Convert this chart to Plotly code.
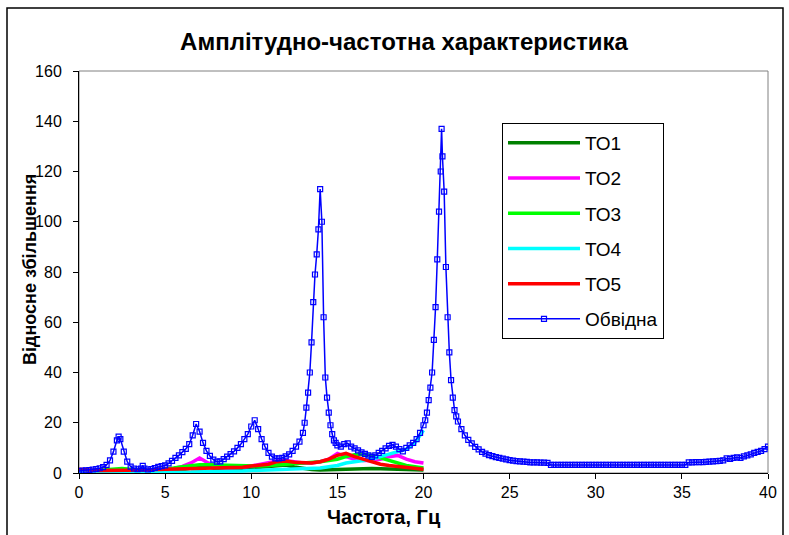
import plotly.graph_objects as go

# Frequency response of the five transfer functions (ТО1..ТО5), 0.5 Hz step
COMP_FREQ = [0.0, 0.5, 1.0, 1.5, 2.0, 2.5, 3.0, 3.5, 4.0, 4.5, 5.0, 5.5, 6.0, 6.5,
             7.0, 7.5, 8.0, 8.5, 9.0, 9.5, 10.0, 10.5, 11.0, 11.5, 12.0, 12.5,
             13.0, 13.5, 14.0, 14.5, 15.0, 15.5, 16.0, 16.5, 17.0, 17.5, 18.0,
             18.5, 19.0, 19.5, 20.0]

TO1 = [0.3, 0.4, 0.5, 0.7, 0.9, 1.0, 0.6, 0.5, 0.5, 0.6, 0.8, 1.0, 1.3, 2.0,
       2.8, 2.5, 1.6, 1.4, 1.5, 1.8, 2.0, 2.3, 2.6, 3.0, 3.2, 2.4, 1.8, 1.4,
       1.2, 1.3, 1.6, 1.8, 1.9, 1.9, 1.8, 1.7, 1.6, 1.6, 1.5, 1.4, 1.2]

TO2 = [0.2, 0.3, 0.4, 0.5, 0.6, 0.7, 0.6, 0.6, 0.7, 0.9, 1.2, 1.8, 2.6, 4.0,
       6.0, 4.0, 2.4, 2.0, 2.0, 2.3, 2.8, 3.4, 4.2, 4.8, 5.0, 4.5, 4.0, 4.0,
       4.5, 5.5, 7.8, 6.5, 5.5, 5.0, 5.0, 5.5, 6.5, 7.0, 5.5, 4.5, 4.0]

TO3 = [0.5, 0.8, 1.0, 1.5, 1.8, 1.8, 1.5, 1.2, 1.0, 1.2, 1.5, 2.0, 2.5, 3.0,
       3.3, 3.3, 3.2, 3.2, 3.0, 2.8, 2.7, 2.8, 3.0, 3.2, 3.5, 3.8, 3.8, 4.0,
       4.5, 5.0, 5.5, 6.5, 7.3, 7.5, 7.0, 6.0, 5.0, 4.0, 3.0, 2.5, 2.0]

TO4 = [0.1, 0.1, 0.1, 0.1, 0.2, 0.2, 0.2, 0.2, 0.2, 0.3, 0.3, 0.3, 0.4, 0.4,
       0.5, 0.5, 0.5, 0.6, 0.6, 0.8, 1.0, 1.1, 1.2, 1.3, 1.4, 1.4, 1.5, 1.7,
       2.0, 2.5, 3.0, 4.0, 4.5, 4.8, 5.5, 6.5, 7.5, 8.5, 9.5, 12.0, 17.0]

TO5 = [1.5, 1.2, 1.0, 1.0, 1.0, 1.0, 1.0, 1.0, 1.2, 1.4, 1.5, 1.5, 1.6, 1.7,
       1.8, 1.8, 1.9, 2.0, 2.1, 2.3, 2.8, 3.0, 3.5, 4.5, 4.8, 4.3, 4.0, 4.0,
       4.5, 5.5, 7.0, 7.8, 6.5, 5.5, 4.5, 3.5, 3.0, 2.6, 2.2, 1.8, 1.5]

# Envelope (Обвідна) sampled finer around the resonance peaks
ENV_FREQ = [
    0.0, 0.2, 0.4, 0.6, 0.8, 1.0, 1.2, 1.4, 1.6, 1.8, 2.0, 2.2, 2.3, 2.4,
    2.6, 2.8, 3.0, 3.2, 3.4, 3.6, 3.7, 3.8, 4.0, 4.2, 4.4, 4.6, 4.8, 5.0,
    5.2, 5.4, 5.6, 5.8, 6.0, 6.2, 6.4, 6.6, 6.8, 7.0, 7.2, 7.4, 7.6, 7.8,
    8.0, 8.2, 8.4, 8.6, 8.8, 9.0, 9.2, 9.4, 9.6, 9.8, 10.0, 10.2, 10.4,
    10.6, 10.8, 11.0, 11.2, 11.4, 11.6, 11.8, 12.0, 12.2, 12.4, 12.6, 12.8,
    13.0,
    13.1, 13.2, 13.3, 13.4, 13.5, 13.6, 13.7, 13.8, 13.9, 14.0, 14.1, 14.2,
    14.3, 14.4, 14.5, 14.6, 14.7, 14.8, 14.9, 15.0,
    15.2, 15.4, 15.6, 15.8, 16.0, 16.2, 16.4, 16.6, 16.8, 17.0, 17.2, 17.4,
    17.6, 17.8, 18.0, 18.2, 18.4, 18.6, 18.8, 19.0, 19.2, 19.4, 19.6, 19.8,
    20.0,
    20.1, 20.2, 20.3, 20.4, 20.5, 20.6, 20.7, 20.8, 20.9, 21.0, 21.05, 21.1,
    21.2, 21.3, 21.4, 21.5, 21.6, 21.7, 21.8, 21.9, 22.0,
    22.2, 22.4, 22.6, 22.8, 23.0, 23.2, 23.4, 23.6, 23.8, 24.0, 24.2, 24.4,
    24.6, 24.8, 25.0, 25.2, 25.4, 25.6, 25.8, 26.0, 26.2, 26.4, 26.6, 26.8,
    27.0, 27.2, 27.4, 27.6, 27.8, 28.0, 28.2, 28.4, 28.6, 28.8, 29.0, 29.2,
    29.4, 29.6, 29.8, 30.0, 30.2, 30.4, 30.6, 30.8, 31.0, 31.2, 31.4, 31.6,
    31.8, 32.0, 32.2, 32.4, 32.6, 32.8, 33.0, 33.2, 33.4, 33.6, 33.8, 34.0,
    34.2, 34.4, 34.6, 34.8, 35.0, 35.2, 35.4, 35.6, 35.8, 36.0, 36.2, 36.4,
    36.6, 36.8, 37.0, 37.2, 37.4, 37.6, 37.8, 38.0, 38.2, 38.4, 38.6, 38.8,
    39.0, 39.2, 39.4, 39.6, 39.8, 40.0,
]

ENV_GAIN = [
    0.8, 1.0, 1.1, 1.2, 1.4, 1.6, 1.9, 2.3, 3.2, 5.0, 8.5, 13.0, 14.5, 13.5,
    8.5, 4.5, 2.5, 1.8, 1.5, 1.8, 2.8, 1.8, 1.4, 1.6, 2.0, 2.4, 2.7, 3.0,
    3.8, 4.8, 6.0, 7.0, 8.3, 9.6, 11.5, 15.0, 19.5, 16.5, 12.0, 8.8, 6.8, 5.3,
    4.5, 4.6, 5.5, 6.5, 7.5, 8.6, 10.0, 11.5, 13.5, 15.5, 18.5, 21.0, 17.5,
    13.5, 10.5, 8.0, 6.5, 5.8, 5.8, 6.0, 6.6, 7.4, 8.8, 10.5, 12.5,
    16.0,
    20.0, 26.0, 32.0, 40.0, 52.0, 68.0, 79.0, 87.0, 97.0, 113.0, 100.0, 62.0,
    38.0, 30.0, 24.0, 19.0, 15.5, 13.0, 12.0, 11.0,
    10.5, 11.5, 11.8, 10.5, 9.8, 9.0, 8.2, 7.6, 7.0, 6.4, 7.0, 8.0,
    8.8, 9.8, 10.8, 11.2, 10.5, 9.5, 8.6, 10.0, 11.0, 12.0, 13.5, 16.0,
    19.0,
    21.0, 24.0, 29.0, 34.0, 40.0, 53.0, 66.0, 85.0, 104.0, 120.0, 137.0, 126.0,
    112.0, 82.0, 62.0, 48.0, 37.0, 30.0, 25.0, 22.5, 20.5,
    17.5, 15.0, 13.2, 11.8, 10.4, 9.4, 8.4, 7.7, 7.1, 6.7, 6.3, 6.0,
    5.7, 5.4, 5.1, 4.9, 4.7, 4.6, 4.5, 4.4, 4.2, 4.2, 4.2, 4.1,
    4.1, 4.0, 3.2, 3.2, 3.2, 3.2, 3.2, 3.2, 3.2, 3.2, 3.2, 3.2,
    3.2, 3.2, 3.2, 3.2, 3.2, 3.2, 3.2, 3.2, 3.2, 3.2, 3.2, 3.2,
    3.2, 3.2, 3.2, 3.2, 3.2, 3.2, 3.2, 3.2, 3.2, 3.2, 3.2, 3.2,
    3.2, 3.2, 3.2, 3.2, 3.2, 3.2, 4.2, 4.2, 4.3, 4.3, 4.3, 4.4,
    4.5, 4.6, 4.7, 4.8, 5.0, 5.8, 5.6, 6.0, 6.2, 6.0, 6.6, 7.0,
    7.4, 8.0, 8.4, 8.8, 9.5, 10.5,
]

assert len(ENV_FREQ) == len(ENV_GAIN)

SERIES_NAMES = ["ТО1", "ТО2", "ТО3", "ТО4", "ТО5"]
SERIES_COLORS = ["#008000", "#FF00FF", "#00FF00", "#00FFFF", "#FF0000"]
SERIES_VALUES = [TO1, TO2, TO3, TO4, TO5]

X_TICKS = [0, 5, 10, 15, 20, 25, 30, 35, 40]
Y_TICKS = [0, 20, 40, 60, 80, 100, 120, 140, 160]

FONT = "Liberation Sans, Arial, sans-serif"

fig = go.Figure()

for i, (name, color, vals) in enumerate(zip(SERIES_NAMES, SERIES_COLORS, SERIES_VALUES)):
    fig.add_trace(go.Scatter(
        x=COMP_FREQ, y=vals, name=name, mode="lines",
        line=dict(color=color, width=3.5),
        legendgroup=f"g{i}",
    ))

fig.add_trace(go.Scatter(
    x=ENV_FREQ, y=ENV_GAIN, name="Обвідна", mode="lines+markers",
    line=dict(color="#0000FF", width=1.5),
    marker=dict(symbol="square-open", size=5, color="#0000FF",
                line=dict(color="#0000FF", width=1.2)),
    legendgroup="g5",
))

fig.update_layout(
    width=789, height=535,
    margin=dict(l=79, r=21, t=71, b=62),
    paper_bgcolor="white", plot_bgcolor="white",
    font=dict(family=FONT, color="black", size=16),
    title=dict(text="<b>Амплітудно-частотна характеристика</b>",
               x=(404 / 789), xanchor="center", y=1 - 42 / 535, yanchor="middle",
               font=dict(family=FONT, size=24, color="black")),
    showlegend=True,
    legend=dict(
        x=(502 - 79) / 689, y=(473 - 123) / 402, xanchor="left", yanchor="top",
        bgcolor="white", bordercolor="black", borderwidth=1,
        font=dict(family=FONT, size=19, color="black"),
        tracegroupgap=7.5, itemwidth=72,
    ),
    xaxis=dict(
        range=[0, 40], tickvals=X_TICKS, ticks="outside", ticklen=5,
        tickcolor="black", showline=True, linecolor="black", linewidth=1,
        showgrid=False, zeroline=False, tickfont=dict(size=16),
    ),
    yaxis=dict(
        range=[0, 160], tickvals=Y_TICKS, ticks="outside", ticklen=5,
        tickcolor="black", showline=True, linecolor="black", linewidth=1,
        showgrid=False, zeroline=False, tickfont=dict(size=16),
        ticklabelstandoff=8,
    ),
    shapes=[
        # plot-area border
        dict(type="rect", xref="paper", yref="paper", x0=0, x1=1, y0=0, y1=1,
             line=dict(color="#808080", width=1), layer="below"),
        # chart-area frame
        dict(type="rect", xref="paper", yref="paper",
             x0=(7 - 79) / 689, x1=(783 - 79) / 689,
             y0=(473 - 545) / 402, y1=(473 - 8) / 402,
             line=dict(color="black", width=1.5), layer="below"),
    ],
    annotations=[
        dict(text="<b>Частота, Гц</b>", xref="paper", yref="paper",
             x=(384 - 79) / 689, y=(473 - 517) / 402, xanchor="center",
             yanchor="middle", showarrow=False,
             font=dict(family=FONT, size=20, color="black")),
        dict(text="<b>Відносне збільшення</b>", xref="paper", yref="paper",
             x=(30 - 79) / 689, y=(473 - 270) / 402, xanchor="center",
             yanchor="middle", textangle=-90, showarrow=False,
             font=dict(family=FONT, size=18, color="black")),
    ],
)

fig.write_html("out.html")
